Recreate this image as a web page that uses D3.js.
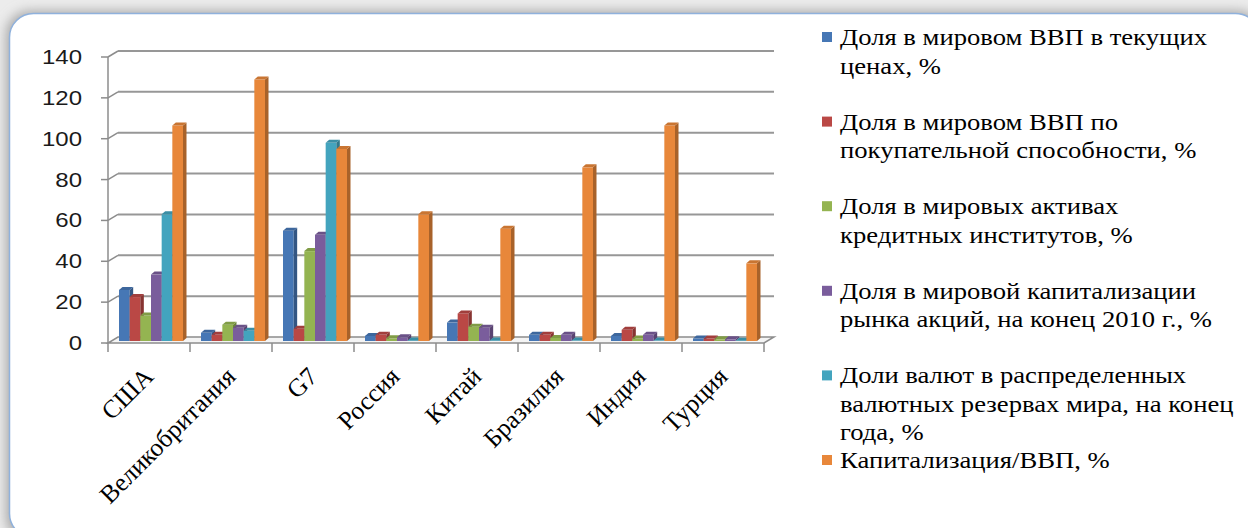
<!DOCTYPE html>
<html>
<head>
<meta charset="utf-8">
<script src="https://cdn.jsdelivr.net/npm/d3@7"></script>
<style>
  html, body { margin: 0; padding: 0; background: #e6e6e6; }
  svg { display: block; }
  .serif { font-family: 'Liberation Serif', 'Times New Roman', serif; }
  .sans { font-family: 'Liberation Sans', Arial, sans-serif; }
</style>
</head>
<body>
<div id="chart"></div>
<script>
// categories along the x axis
const categories = ["США", "Великобритания", "G7", "Россия", "Китай", "Бразилия", "Индия", "Турция"];

// series names, "\n" marks the legend line breaks
const seriesNames = [
    "Доля в мировом ВВП в текущих\nценах, %",
    "Доля в мировом ВВП по\nпокупательной способности, %",
    "Доля в мировых активах\nкредитных институтов, %",
    "Доля в мировой капитализации\nрынка акций, на конец 2010 г., %",
    "Доли валют в распределенных\nвалютных резервах мира, на конец\nгода, %",
    "Капитализация/ВВП, %"
];
const seriesColors = ["#4677b5", "#ba4845", "#94b451", "#7a5d9c", "#43a4be", "#e8873a"];

// values per series, in category order
const gdpCurrent   = [25, 4, 54, 2.5, 9, 3, 2.5, 1.2];
const gdpPpp       = [21.5, 3, 6, 3, 13.5, 3, 5.5, 1.2];
const bankAssets   = [12.5, 8, 44, 1.3, 7, 1.5, 1.2, 0.8];
const marketCap    = [32.5, 6.5, 52, 1.8, 6.5, 3, 3, 0.8];
const reserves     = [62, 5, 97, 0.3, 0.3, 0.2, 0.2, 0.1];
const capToGdp     = [105.5, 128, 94, 62, 55, 85, 105.5, 38];
const seriesValues = [gdpCurrent, gdpPpp, bankAssets, marketCap, reserves, capToGdp];

const yTicks = [0, 20, 40, 60, 80, 100, 120, 140];

const W = 1248, H = 528;
const svg = d3.select('#chart').append('svg')
    .attr('width', W)
    .attr('height', H);

// frame with soft shadow
const defs = svg.append('defs');
const blur = defs.append('filter').attr('id', 'shadow')
    .attr('x', '-5%').attr('y', '-5%').attr('width', '110%').attr('height', '110%');
blur.append('feGaussianBlur').attr('stdDeviation', 6);

svg.append('rect').attr('width', W).attr('height', H).attr('fill', '#ececec');
svg.append('rect')
    .attr('x', 6).attr('y', 11).attr('width', 1256).attr('height', 530).attr('rx', 24)
    .attr('fill', '#a8a8a8').attr('filter', 'url(#shadow)');
svg.append('rect')
    .attr('x', 9.5).attr('y', 13.5).attr('width', 1250).attr('height', 524).attr('rx', 24)
    .attr('fill', '#ffffff').attr('stroke', '#8fb1dc').attr('stroke-width', 1.5);

// scales
const x = d3.scaleBand().domain(categories).range([108, 764]);
const inner = d3.scaleBand().domain(d3.range(seriesNames.length)).range([11, 75]);
const y = d3.scaleLinear().domain([0, 140]).range([343, 57]);
const depth = { dx: 10, dy: -6 };

const plot = svg.append('g');

// floor
const x0 = x.range()[0], x1 = x.range()[1];
plot.append('path')
    .attr('d', `M${x0},${y(0)} L${x1},${y(0)} L${x1 + depth.dx},${y(0) + depth.dy} L${x0 + depth.dx},${y(0) + depth.dy} Z`)
    .attr('fill', '#f4f4f4').attr('stroke', '#8c8c8c').attr('stroke-width', 1.5);

// back wall gridlines and y ticks
yTicks.forEach(t => {
    const yy = y(t);
    if (t > 0) {
        plot.append('line')
            .attr('x1', x0 + depth.dx).attr('x2', x1 + depth.dx)
            .attr('y1', yy + depth.dy).attr('y2', yy + depth.dy)
            .attr('stroke', '#979797').attr('stroke-width', 2);
        plot.append('line')
            .attr('x1', x0).attr('x2', x0 + depth.dx)
            .attr('y1', yy).attr('y2', yy + depth.dy)
            .attr('stroke', '#8c8c8c').attr('stroke-width', 1.5);
    }
    plot.append('line')
        .attr('x1', x0 - 7).attr('x2', x0)
        .attr('y1', yy).attr('y2', yy)
        .attr('stroke', '#8c8c8c').attr('stroke-width', 1.5);
    svg.append('text')
        .attr('class', 'sans')
        .attr('transform', `translate(82,${yy + 7}) scale(1.2,1)`)
        .attr('text-anchor', 'end')
        .attr('font-size', 20)
        .attr('fill', '#1a1a1a')
        .text(t);
});
plot.append('line')
    .attr('x1', x0).attr('x2', x0)
    .attr('y1', y(140)).attr('y2', y(0))
    .attr('stroke', '#8c8c8c').attr('stroke-width', 1.5);

// category ticks
d3.range(categories.length + 1).forEach(i => {
    const xx = x0 + i * x.bandwidth();
    plot.append('line')
        .attr('x1', xx).attr('x2', xx)
        .attr('y1', y(0)).attr('y2', y(0) + 9)
        .attr('stroke', '#8c8c8c').attr('stroke-width', 1.5);
});

// 3d bars
const bd = { dx: 3.5, dy: -3 };
const base = y(0) - 2;
const bars = plot.append('g');
categories.forEach((c, ci) => {
    seriesValues.forEach((vals, si) => {
        const v = vals[ci];
        const bx = x(c) + inner(si);
        const bw = inner.bandwidth();
        const top = base - (y(0) - y(v));
        const col = d3.color(seriesColors[si]);
        bars.append('rect')
            .attr('x', bx).attr('y', top)
            .attr('width', bw).attr('height', base - top)
            .attr('fill', col.formatHex());
        bars.append('path')
            .attr('d', `M${bx + bw},${top} L${bx + bw + bd.dx},${top + bd.dy} L${bx + bw + bd.dx},${base + bd.dy} L${bx + bw},${base} Z`)
            .attr('fill', col.darker(0.9).formatHex());
        bars.append('path')
            .attr('d', `M${bx},${top} L${bx + bd.dx},${top + bd.dy} L${bx + bw + bd.dx},${top + bd.dy} L${bx + bw},${top} Z`)
            .attr('fill', col.darker(0.4).formatHex());
    });
});

// rotated category labels
categories.forEach(c => {
    const cx = x(c) + x.bandwidth() / 2 + 6;
    svg.append('text')
        .attr('class', 'serif')
        .attr('transform', `translate(${cx},378) rotate(-45)`)
        .attr('text-anchor', 'end')
        .attr('font-size', 25.5)
        .attr('fill', '#000')
        .text(c);
});

// legend
const legend = svg.append('g');
seriesNames.forEach((name, i) => {
    const cy = 37 + i * 84.6;
    legend.append('rect')
        .attr('x', 822).attr('y', cy - 5)
        .attr('width', 10).attr('height', 10)
        .attr('fill', seriesColors[i]);
    name.split('\n').forEach((line, li) => {
        legend.append('text')
            .attr('class', 'serif')
            .attr('transform', `translate(840,${cy + 8 + li * 28.5}) scale(1.11,1)`)
            .attr('font-size', 24)
            .attr('fill', '#000')
            .text(line);
    });
});
</script>
</body>
</html>
